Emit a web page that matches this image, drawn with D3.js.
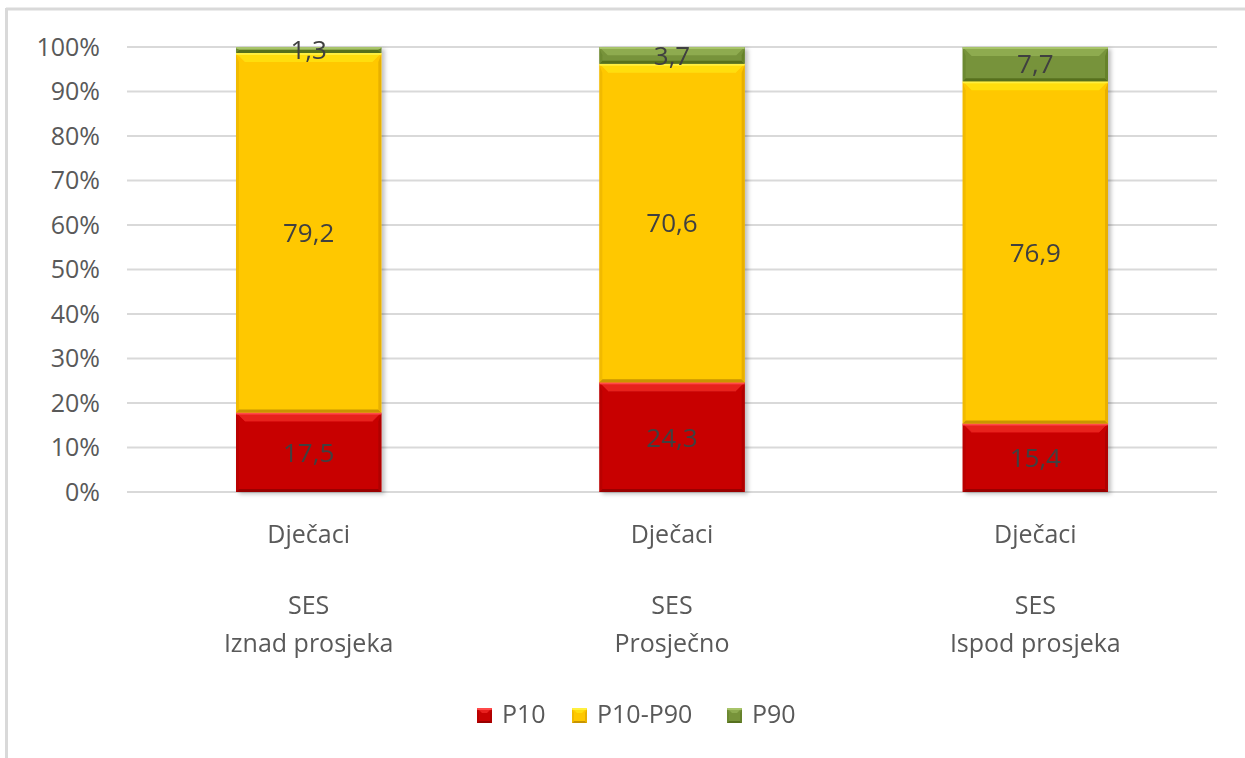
<!DOCTYPE html>
<html>
<head>
<meta charset="utf-8">
<script src="https://cdn.jsdelivr.net/npm/d3@7"></script>
<style>
  html, body { margin: 0; padding: 0; background: #fff; }
  svg { display: block; font-family: "Open Sans", "Noto Sans", sans-serif; }
</style>
</head>
<body>
<svg id="chart" width="1245" height="758"></svg>
<script>
// Categories (two-line labels: gender, then SES group)
const categories = ["Iznad prosjeka", "Prosječno", "Ispod prosjeka"];
const genderLabels = ["Dječaci", "Dječaci", "Dječaci"];
const sesLabel = "SES";

// Series values (percent of pupils)
const seriesNames = ["P10", "P10-P90", "P90"];
const p10 = [17.5, 24.3, 15.4];
const p10p90 = [79.2, 70.6, 76.9];
const p90 = [1.3, 3.7, 7.7];

const tickValues = [0, 0.1, 0.2, 0.3, 0.4, 0.5, 0.6, 0.7, 0.8, 0.9, 1.0];

const colors = {
  "P10":     { base: "#C80202", top: "#E8201E", edge: "#FF4A4A", bottom: "#9A0000", side: "#B00000" },
  "P10-P90": { base: "#FFC800", top: "#FFDE10", edge: "#FFF040", bottom: "#C89500", side: "#E8B000" },
  "P90":     { base: "#77933A", top: "#8EAB50", edge: "#A8C46A", bottom: "#56701F", side: "#66822C" }
};

const svg = d3.select("#chart");
const W = 1245, H = 758;

// Outer frame
svg.append("line").attr("x1", 6).attr("x2", W).attr("y1", 9).attr("y2", 9)
  .attr("stroke", "#d9d9d9").attr("stroke-width", 3);
svg.append("line").attr("x1", 6.5).attr("x2", 6.5).attr("y1", 8).attr("y2", H)
  .attr("stroke", "#d9d9d9").attr("stroke-width", 3);

const margin = { left: 127, right: 1217, top: 47, bottom: 492 };

const x = d3.scaleBand().domain(categories).range([margin.left, margin.right]).paddingInner(0.6).paddingOuter(0.3);
const y = d3.scaleLinear().domain([0, 1]).range([margin.bottom, margin.top]);

// Build stacked, 100%-normalised data
const rows = categories.map((c, i) => ({ cat: c, "P10": p10[i], "P10-P90": p10p90[i], "P90": p90[i] }));
const stack = d3.stack().keys(seriesNames).offset(d3.stackOffsetExpand);
const stacked = stack(rows);

// Gridlines
svg.append("g").selectAll("line").data(tickValues).join("line")
  .attr("x1", margin.left).attr("x2", margin.right)
  .attr("y1", d => y(d)).attr("y2", d => y(d))
  .attr("stroke", "#d9d9d9").attr("stroke-width", 2);

// Y axis labels
const yAxis = d3.axisLeft(y).tickValues(tickValues).tickFormat(d => Math.round(d * 100) + "%").tickSize(0).tickPadding(0);
const yg = svg.append("g").attr("transform", `translate(${margin.left - 27},0)`).call(yAxis);
yg.select(".domain").remove();
yg.selectAll("text").attr("fill", "#595959").style("font-size", "25px")
  .style("font-family", "'Open Sans', 'Noto Sans', sans-serif");

// Drop shadow
const defs = svg.append("defs");
const f = defs.append("filter").attr("id", "shadow").attr("x", "-10%").attr("y", "-10%").attr("width", "130%").attr("height", "130%");
f.append("feDropShadow").attr("dx", 3).attr("dy", 2).attr("stdDeviation", 2).attr("flood-color", "#000").attr("flood-opacity", 0.25);

// Bevelled segment: lighter top band, thin dark bottom and right edges
function bevel(g, x0, y0, w, h, c, bt, bb, bs) {
  bt = Math.min(bt, h / 2); bb = Math.min(bb, h / 2);
  const x1 = x0 + w, y1 = y0 + h;
  g.append("rect").attr("x", x0).attr("y", y0).attr("width", w).attr("height", h).attr("fill", c.base);
  // top band
  g.append("polygon").attr("points", [[x0, y0], [x1, y0], [x1 - bt, y0 + bt], [x0 + bt, y0 + bt]].join(" "))
    .attr("fill", c.top);
  g.append("rect").attr("x", x0).attr("y", y0).attr("width", w).attr("height", Math.min(2, h)).attr("fill", c.edge);
  // bottom
  g.append("polygon").attr("points", [[x0, y1], [x1, y1], [x1 - bb, y1 - bb], [x0 + bb, y1 - bb]].join(" "))
    .attr("fill", c.bottom);
  // right side
  g.append("polygon").attr("points", [[x1, y0 + 1], [x1 - bs, y0 + bt], [x1 - bs, y1 - bb], [x1, y1]].join(" "))
    .attr("fill", c.side);
  // left side
  g.append("polygon").attr("points", [[x0, y0 + 1], [x0 + bs, y0 + bt], [x0 + bs, y1 - bb], [x0, y1]].join(" "))
    .attr("fill", c.side).attr("opacity", 0.6);
}

const barsG = svg.append("g").attr("filter", "url(#shadow)");
stacked.forEach(layer => {
  const c = colors[layer.key];
  layer.forEach(d => {
    const x0 = x(d.data.cat), w = x.bandwidth();
    const yTop = y(d[1]), yBot = y(d[0]);
    bevel(barsG, x0, yTop, w, yBot - yTop, c, 9, 3, 3);
  });
});

// Data labels
const labelsG = svg.append("g");
stacked.forEach(layer => {
  layer.forEach(d => {
    labelsG.append("text")
      .attr("x", x(d.data.cat) + x.bandwidth() / 2)
      .attr("y", (y(d[0]) + y(d[1])) / 2)
      .attr("dy", "0.36em")
      .attr("text-anchor", "middle")
      .attr("fill", "#404040")
      .style("font-size", "26px")
      .text(String(d.data[layer.key]).replace(".", ","));
  });
});

// Category labels
const catG = svg.append("g");
categories.forEach((c, i) => {
  const cx = x(c) + x.bandwidth() / 2;
  const t = catG.append("text").attr("text-anchor", "middle").attr("fill", "#595959").style("font-size", "25px");
  t.append("tspan").attr("x", cx).attr("y", 543).text(genderLabels[i]);
  t.append("tspan").attr("x", cx).attr("y", 614).text(sesLabel);
  t.append("tspan").attr("x", cx).attr("y", 652).text(c);
});

// Legend
const legendItems = [{ k: "P10", x: 477 }, { k: "P10-P90", x: 572 }, { k: "P90", x: 727 }];
const lg = svg.append("g");
legendItems.forEach(it => {
  const c = colors[it.k];
  bevel(lg.append("g"), it.x, 708, 15, 15, c, 5, 2, 2);
  lg.append("text").attr("x", it.x + 25).attr("y", 723).attr("fill", "#595959").style("font-size", "25px").text(it.k);
});
</script>
</body>
</html>
